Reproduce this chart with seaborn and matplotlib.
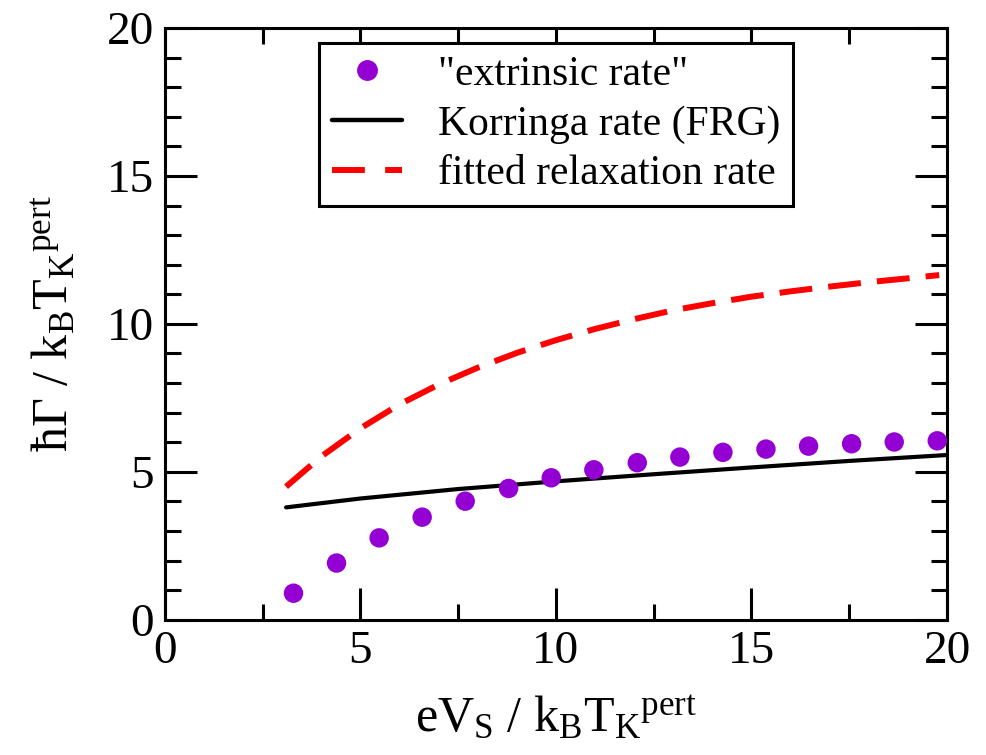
import pandas as pd
import seaborn as sns
import matplotlib.pyplot as plt
from matplotlib.lines import Line2D

# "extrinsic rate" points
x_extrinsic = [3.29, 4.39, 5.48, 6.58, 7.68, 8.79, 9.88, 10.97, 12.08, 13.17, 14.27, 15.37, 16.46, 17.56, 18.65, 19.75]
y_extrinsic = [0.90, 1.92, 2.77, 3.47, 4.01, 4.44, 4.80, 5.07, 5.31, 5.50, 5.66, 5.77, 5.87, 5.95, 6.01, 6.05]

# Korringa rate (FRG)
x_korringa = [3.1, 5.0, 7.5, 10.0, 12.5, 15.0, 17.5, 20.0]
y_korringa = [3.80, 4.10, 4.42, 4.68, 4.92, 5.15, 5.37, 5.57]

# fitted relaxation rate
x_fitted = [3.1, 4.0, 5.0, 6.0, 7.0, 8.0, 9.0, 10.0, 11.0, 12.0, 13.0, 14.0, 15.0, 16.0, 17.0, 18.0, 19.0, 19.8]
y_fitted = [4.50, 5.52, 6.47, 7.28, 7.95, 8.52, 9.02, 9.45, 9.83, 10.16, 10.46, 10.70, 10.92, 11.10, 11.26, 11.41, 11.54, 11.65]

df_ext = pd.DataFrame({"x": x_extrinsic, "y": y_extrinsic})
df_kor = pd.DataFrame({"x": x_korringa, "y": y_korringa})
df_fit = pd.DataFrame({"x": x_fitted, "y": y_fitted})

sns.set_style("ticks")
plt.rcParams['font.family'] = ['Liberation Serif', 'DejaVu Serif']
plt.rcParams['mathtext.fontset'] = 'custom'
plt.rcParams['mathtext.rm'] = 'Liberation Serif'
plt.rcParams['mathtext.it'] = 'Liberation Serif:italic'
plt.rcParams['text.color'] = 'black'
plt.rcParams['axes.labelcolor'] = 'black'
plt.rcParams['xtick.color'] = 'black'
plt.rcParams['ytick.color'] = 'black'

purple = "#9400d3"

fig = plt.figure(figsize=(9.87, 7.55), dpi=100)
ax = fig.add_axes([0.167, 0.179, 0.7925, 0.784])

sns.lineplot(data=df_fit, x="x", y="y", ax=ax, color="red", linewidth=4.3, sort=False)
ax.lines[-1].set_dashes([5.5, 2.7])
sns.lineplot(data=df_kor, x="x", y="y", ax=ax, color="black", linewidth=3.0, sort=False)
sns.scatterplot(data=df_ext, x="x", y="y", ax=ax, color=purple, s=196,
                edgecolor="none", zorder=3)

ax.set_xlim(0, 20)
ax.set_ylim(0, 20)
ax.set_xticks([0, 5, 10, 15, 20])
ax.set_yticks([0, 5, 10, 15, 20])
ax.set_xticks([2.5, 7.5, 12.5, 17.5], minor=True)
ax.set_yticks([y for y in range(21) if y % 5 != 0], minor=True)
ax.tick_params(which="both", direction="in", top=True, right=True, width=2.2,
               labelsize=34, pad=8)
ax.tick_params(which="major", length=23)
ax.tick_params(which="minor", length=11.5)
for s in ax.spines.values():
    s.set_linewidth(2.2)
    s.set_color("black")

ax.set_xlabel(r'eV$_\mathrm{S}$ / k$_\mathrm{B}$T$_\mathrm{K}{}^\mathrm{pert}$', fontsize=36, labelpad=16)
ax.set_ylabel(r'ħΓ / k$_\mathrm{B}$T$_\mathrm{K}{}^\mathrm{pert}$', fontsize=36, labelpad=20)

handles = [
    Line2D([], [], linestyle="none", marker="o", color=purple, markersize=14),
    Line2D([], [], color="black", linewidth=3.2),
    Line2D([], [], color="red", linewidth=4.3, dashes=[5.5, 3.4]),
]
labels = ['"extrinsic rate"', 'Korringa rate (FRG)', 'fitted relaxation rate']
leg = ax.legend(handles, labels, loc="upper center", bbox_to_anchor=(0.5, 0.975),
                fontsize=30, frameon=True, fancybox=False, edgecolor="black",
                framealpha=1, handlelength=1.7, labelspacing=0.27,
                borderpad=0.3, handletextpad=0.85, borderaxespad=0)
leg.get_frame().set_linewidth(2.2)

plt.savefig("out.png", dpi=100)
